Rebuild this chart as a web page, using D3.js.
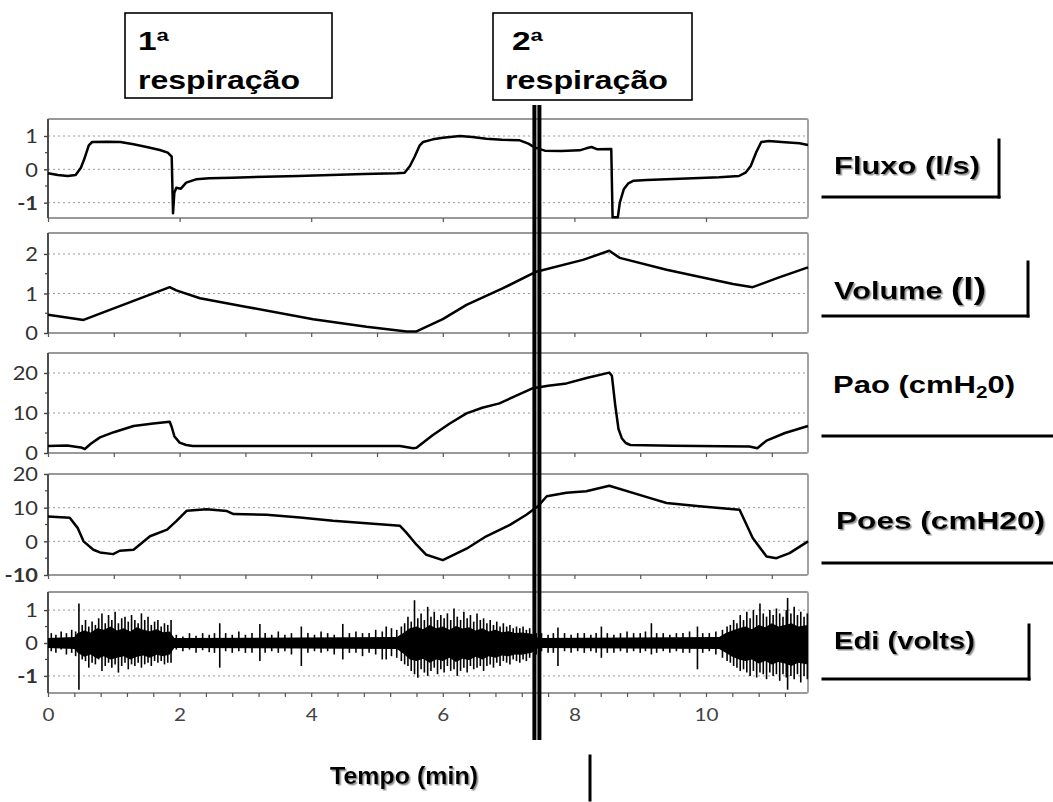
<!DOCTYPE html>
<html><head><meta charset="utf-8">
<script src="https://cdn.jsdelivr.net/npm/d3@7"></script>
<style>
html,body{margin:0;padding:0;background:#fff;}
svg{display:block;}
</style></head>
<body>
<svg id="chart" width="1053" height="802"></svg>
<script>
// ---------------- DATA ----------------
const xDomain = [0, 11.55];
const xTickValues = [0, 2, 4, 6, 8, 10];
const xTickLabels = ["0", "2", "4", "6", "8", "10"];
const markerT = 7.43;

const fluxoT = [0,0.15,0.3,0.42,0.5,0.55,0.62,0.67,0.9,1.1,1.3,1.5,1.7,1.82,1.88,1.9,1.92,1.95,2.02,2.1,2.25,2.45,2.8,3.3,3.8,4.3,4.8,5.3,5.42,5.5,5.57,5.65,5.7,5.85,6.0,6.26,6.45,6.66,6.9,7.17,7.3,7.4,7.55,7.8,8.08,8.18,8.26,8.35,8.56,8.58,8.66,8.69,8.75,8.82,8.9,9.1,9.4,9.8,10.2,10.5,10.6,10.68,10.76,10.84,10.95,11.2,11.42,11.55];
const fluxoV = [-0.12,-0.17,-0.2,-0.17,0.05,0.3,0.72,0.82,0.83,0.82,0.75,0.67,0.58,0.5,0.38,-1.32,-0.7,-0.55,-0.58,-0.4,-0.3,-0.27,-0.25,-0.22,-0.2,-0.17,-0.14,-0.12,-0.1,0.1,0.37,0.72,0.82,0.9,0.95,1.0,0.97,0.92,0.89,0.87,0.77,0.65,0.56,0.55,0.57,0.63,0.67,0.6,0.61,-1.44,-1.44,-1.0,-0.6,-0.42,-0.34,-0.32,-0.3,-0.27,-0.24,-0.2,-0.1,0.1,0.5,0.82,0.85,0.81,0.78,0.73];
const fluxoDomain = [-1.46, 1.51];
const fluxoTicks = [-1, 0, 1];
const fluxoTickLabels = ["-1", "0", "1"];

const volumeT = [0,0.54,1.2,1.85,1.95,2.31,3.02,4.03,4.84,5.45,5.6,6.0,6.36,6.9,7.42,8.13,8.53,8.69,9.4,10.41,10.71,11.1,11.55];
const volumeV = [0.46,0.33,0.75,1.16,1.08,0.88,0.66,0.35,0.16,0.04,0.04,0.35,0.71,1.12,1.55,1.85,2.08,1.9,1.6,1.24,1.16,1.4,1.66];
const volumeDomain = [0, 2.53];
const volumeTicks = [0, 1, 2];
const volumeTickLabels = ["0", "1", "2"];

const paoT = [0,0.29,0.5,0.56,0.65,0.79,1.0,1.3,1.6,1.85,1.88,1.92,2.0,2.1,2.2,3.5,5.35,5.55,5.6,5.85,6.1,6.36,6.6,6.86,7.1,7.37,7.6,7.88,8.2,8.53,8.57,8.62,8.67,8.72,8.78,8.85,9.5,10.66,10.78,10.92,11.2,11.55];
const paoV = [1.75,1.9,1.4,1.0,2.3,3.9,5.2,6.75,7.4,7.8,6.5,4.2,2.6,2.0,1.75,1.75,1.75,1.2,1.3,4.5,7.3,9.9,11.3,12.4,14.2,16.2,16.8,17.4,18.8,20.1,19.3,12,6,3.7,2.5,2.0,1.8,1.6,1.2,3.1,5.0,6.75];
const paoDomain = [0, 25];
const paoTicks = [0, 10, 20];
const paoTickLabels = ["0", "10", "20"];

const poesT = [0,0.33,0.45,0.54,0.69,0.79,0.99,1.09,1.3,1.55,1.81,1.95,2.11,2.41,2.72,2.82,3.32,3.83,4.33,4.84,5.35,5.45,5.6,5.75,6.0,6.36,6.66,7.02,7.27,7.45,7.58,7.88,8.18,8.53,9.14,9.4,9.9,10.51,10.71,10.92,11.07,11.27,11.55];
const poesV = [7.4,7.0,4.0,0,-2.5,-3.3,-3.8,-2.8,-2.5,1.5,3.5,6.0,9.1,9.5,9.0,8.1,7.9,7.1,6.1,5.4,4.6,2.5,-1.0,-4.0,-5.6,-2.2,1.5,4.9,7.9,10.5,13.4,14.4,14.9,16.5,12.9,11.4,10.4,9.4,1.0,-4.5,-5.0,-3.5,0];
const poesDomain = [-10, 20];
const poesTicks = [-10, 0, 10, 20];
const poesTickLabels = ["-10", "0", "10", "20"];

// Edi: envelope of the dense signal and individual spikes
const ediCoreT  = [0,0.4,0.45,0.55,0.65,0.75,0.85,0.95,1.05,1.15,1.25,1.35,1.45,1.55,1.65,1.75,1.85,1.92,5.3,5.4,5.5,5.6,5.7,5.8,5.9,6.0,6.1,6.2,6.3,6.4,6.5,6.6,6.7,6.8,6.9,7.0,7.1,7.2,7.35,7.45,10.2,10.3,10.4,10.5,10.6,10.7,10.8,10.9,11.0,11.1,11.2,11.3,11.4,11.55];
const ediCoreHi = [0.15,0.18,0.3,0.38,0.32,0.45,0.4,0.5,0.38,0.45,0.35,0.48,0.4,0.36,0.42,0.33,0.35,0.15,0.18,0.3,0.45,0.5,0.42,0.55,0.45,0.5,0.4,0.52,0.44,0.48,0.38,0.45,0.35,0.4,0.33,0.36,0.3,0.32,0.28,0.15,0.18,0.3,0.38,0.45,0.5,0.42,0.55,0.48,0.6,0.5,0.55,0.6,0.5,0.55];
const ediCoreLo = [-0.15,-0.18,-0.3,-0.42,-0.35,-0.48,-0.4,-0.5,-0.45,-0.4,-0.5,-0.42,-0.38,-0.45,-0.36,-0.4,-0.35,-0.15,-0.18,-0.32,-0.5,-0.55,-0.48,-0.6,-0.5,-0.55,-0.45,-0.58,-0.48,-0.52,-0.42,-0.5,-0.4,-0.45,-0.38,-0.4,-0.35,-0.36,-0.3,-0.15,-0.18,-0.3,-0.42,-0.5,-0.55,-0.5,-0.62,-0.55,-0.65,-0.58,-0.62,-0.7,-0.6,-0.65];
const ediSpikeT  = [0.05,0.12,0.2,0.28,0.36,0.42,
 0.47,0.52,0.57,0.62,0.67,0.72,0.77,0.82,0.87,0.92,0.97,1.02,1.07,1.12,1.17,1.22,1.27,1.32,1.37,1.42,1.47,1.52,1.57,1.62,1.67,1.72,1.77,1.82,1.87,
 1.95,2.05,2.15,2.25,2.35,2.45,2.53,2.61,2.7,2.8,2.9,3.0,3.1,3.22,3.3,3.4,3.5,3.6,3.7,3.85,3.95,4.05,4.15,4.25,4.35,4.48,4.58,4.68,4.78,4.88,4.98,5.08,5.14,5.22,5.3,5.37,
 5.42,5.47,5.52,5.57,5.62,5.67,5.72,5.77,5.82,5.87,5.92,5.97,6.02,6.07,6.12,6.17,6.22,6.27,6.32,6.37,6.42,6.47,6.52,6.57,6.62,6.67,6.72,6.77,6.82,6.87,6.92,6.97,7.02,7.07,7.12,7.17,7.22,7.27,7.32,
 7.42,7.5,7.6,7.68,7.75,7.85,7.95,8.05,8.15,8.25,8.33,8.41,8.5,8.6,8.7,8.8,8.9,9.0,9.08,9.17,9.25,9.35,9.45,9.55,9.65,9.75,9.87,9.95,10.05,10.15,10.25,
 10.32,10.37,10.42,10.47,10.52,10.57,10.62,10.67,10.72,10.77,10.82,10.87,10.92,10.97,11.02,11.07,11.12,11.17,11.22,11.24,11.29,11.34,11.39,11.44,11.49,11.54];
const ediSpikeHi = [0.3,0.25,0.35,0.3,0.4,0.35,
 1.2,0.55,0.7,0.5,0.65,0.55,0.75,0.9,0.6,0.85,0.7,0.95,0.6,0.75,0.8,0.65,0.85,0.7,0.6,0.9,0.7,0.8,0.55,0.65,0.7,0.5,0.6,0.55,0.7,
 0.25,0.2,0.3,0.22,0.3,0.25,0.3,0.6,0.3,0.25,0.35,0.25,0.3,0.58,0.3,0.25,0.35,0.25,0.3,0.5,0.3,0.25,0.35,0.3,0.25,0.58,0.3,0.35,0.3,0.3,0.4,0.35,0.5,0.45,0.4,0.5,
 0.6,0.8,0.65,1.3,0.75,0.9,0.7,1.1,0.8,0.95,0.7,0.85,0.75,0.9,0.7,1.05,0.8,0.7,0.95,0.75,0.85,0.65,0.9,0.7,0.75,0.6,0.7,0.55,0.65,0.5,0.6,0.5,0.55,0.45,0.5,0.45,0.5,0.4,0.45,
 0.3,0.3,0.25,0.3,0.47,0.3,0.25,0.3,0.3,0.25,0.3,0.5,0.3,0.25,0.3,0.35,0.3,0.3,0.35,0.6,0.3,0.3,0.25,0.3,0.3,0.35,0.5,0.3,0.3,0.35,0.4,
 0.5,0.55,0.7,0.6,0.85,0.7,0.95,0.75,1.0,0.85,1.2,0.9,0.8,1.0,0.85,1.05,0.9,0.8,1.0,1.37,0.9,1.1,0.85,0.95,0.8,0.9];
const ediSpikeLo = [-0.25,-0.3,-0.2,-0.35,-0.3,-0.4,
 -1.42,-0.5,-0.55,-0.75,-0.6,-0.65,-0.5,-0.85,-0.7,-0.6,-0.75,-0.65,-0.9,-0.7,-0.6,-0.8,-0.65,-0.7,-0.6,-0.75,-0.65,-0.6,-0.7,-0.55,-0.6,-0.55,-0.65,-0.6,-0.6,
 -0.2,-0.25,-0.2,-0.3,-0.22,-0.28,-0.3,-0.75,-0.25,-0.3,-0.25,-0.3,-0.3,-0.55,-0.3,-0.25,-0.3,-0.25,-0.35,-0.7,-0.3,-0.25,-0.3,-0.25,-0.35,-0.5,-0.3,-0.3,-0.4,-0.3,-0.35,-0.5,-0.5,-0.4,-0.45,-0.55,
 -0.65,-0.7,-0.85,-0.95,-1.06,-0.8,-0.9,-1.0,-0.85,-0.75,-0.95,-0.8,-0.9,-0.7,-0.85,-0.8,-1.0,-0.85,-0.75,-0.9,-0.7,-0.8,-0.75,-0.7,-0.85,-0.7,-0.65,-0.75,-0.6,-0.7,-0.55,-0.6,-0.65,-0.5,-0.55,-0.6,-0.5,-0.55,-0.45,
 -0.35,-0.25,-0.3,-0.3,-0.7,-0.25,-0.3,-0.25,-0.3,-0.25,-0.3,-0.45,-0.3,-0.3,-0.25,-0.3,-0.25,-0.3,-0.25,-0.35,-0.3,-0.25,-0.3,-0.25,-0.3,-0.3,-0.8,-0.3,-0.25,-0.35,-0.45,
 -0.55,-0.6,-0.7,-0.75,-0.85,-0.8,-0.9,-1.0,-0.85,-1.05,-0.9,-0.95,-1.1,-0.9,-1.0,-0.95,-1.15,-0.95,-1.05,-1.42,-1.0,-1.1,-0.95,-1.2,-1.0,-1.1];
const ediDomain = [-1.52, 1.55];
const ediTicks = [-1, 0, 1];
const ediTickLabels = ["-1", "0", "1"];

// ---------------- DRAW ----------------
const svg = d3.select("#chart");
const defs = svg.append("defs");
const f = defs.append("filter").attr("id","shadow").attr("x","-10%").attr("y","-20%").attr("width","130%").attr("height","160%");
f.append("feDropShadow").attr("dx",1.5).attr("dy",1.5).attr("stdDeviation",0.6)
  .attr("flood-color","#777").attr("flood-opacity",0.8);

const x = d3.scaleLinear().domain(xDomain).range([48, 808]);

const panels = [
  {t: fluxoT,  v: fluxoV,  top: 119, bottom: 218, domain: fluxoDomain,  ticks: fluxoTicks,  labels: fluxoTickLabels, minorStep: 2},
  {t: volumeT, v: volumeV, top: 233, bottom: 333, domain: volumeDomain, ticks: volumeTicks, labels: volumeTickLabels, minorStep: 1},
  {t: paoT,    v: paoV,    top: 353, bottom: 453, domain: paoDomain,    ticks: paoTicks,    labels: paoTickLabels, minorStep: 1},
  {t: poesT,   v: poesV,   top: 474, bottom: 575, domain: poesDomain,   ticks: poesTicks,   labels: poesTickLabels, minorStep: 1},
  {t: null,    v: null,    top: 592, bottom: 693, domain: ediDomain,    ticks: ediTicks,    labels: ediTickLabels, minorStep: 0.4}
];

const tickFont = "'Lato', 'Open Sans', 'DejaVu Sans', sans-serif";

panels.forEach((p, i) => {
  const y = d3.scaleLinear().domain(p.domain).range([p.bottom, p.top]);
  const g = svg.append("g");
  // grid
  g.selectAll("line.grid").data(p.ticks.filter(v => y(v) > p.top + 2 && y(v) < p.bottom - 2))
    .join("line").attr("class","grid")
    .attr("x1", x(xDomain[0])).attr("x2", x(xDomain[1]))
    .attr("y1", d => y(d)).attr("y2", d => y(d))
    .attr("stroke", "#9a9a9a").attr("stroke-width", 1).attr("stroke-dasharray", "2,3");
  // frame
  g.append("rect").attr("x", x(xDomain[0])).attr("y", p.top)
    .attr("width", x(xDomain[1]) - x(xDomain[0])).attr("height", p.bottom - p.top)
    .attr("fill", "none").attr("stroke", "#999").attr("stroke-width", 1.8).attr("rx", 1.5);
  // bottom minor ticks
  const minor = d3.range(0, xDomain[1] + 0.001, p.minorStep);
  const bx = d3.axisBottom(x).tickValues(minor).tickSize(4).tickFormat("");
  const bg = g.append("g").attr("transform", `translate(0,${p.bottom})`).call(bx);
  bg.select(".domain").remove();
  bg.selectAll("line").attr("stroke", "#555").attr("stroke-width", 1.2);
  // left axis
  const halfTicks = [];
  for (let k = 0; k < p.ticks.length - 1; k++) halfTicks.push((p.ticks[k] + p.ticks[k+1]) / 2);
  const la = d3.axisLeft(y).tickValues(p.ticks).tickSize(4).tickPadding(6)
    .tickFormat((d, k) => p.labels[k]);
  const lg = g.append("g").attr("transform", `translate(${x(xDomain[0])},0)`).call(la);
  lg.select(".domain").attr("d", `M0,${p.top}V${p.bottom}`).attr("stroke", "#444").attr("stroke-width", 1.8);
  lg.selectAll("line").attr("stroke", "#444").attr("stroke-width", 1.4);
  lg.selectAll("text").attr("font-family", tickFont)
    .attr("font-size", 19).attr("fill", "#333").attr("dy", "0.36em")
    .each(function(){ const t = d3.select(this); const xx = +t.attr("x");
      t.attr("transform", `translate(${xx},0) scale(1.15,1) translate(${-xx},0)`); });
  lg.selectAll("text").filter((d,k) => p.labels[k].startsWith("-"))
    .style("font-weight", "bold");
  g.selectAll("line.half").data(halfTicks).join("line").attr("class","half")
    .attr("x1", x(xDomain[0]) - 3).attr("x2", x(xDomain[0]))
    .attr("y1", d => y(d)).attr("y2", d => y(d)).attr("stroke", "#444").attr("stroke-width", 1.2);

  if (p.t) {
    const pts = p.t.map((t, k) => [t, p.v[k]]);
    g.append("path").datum(pts)
      .attr("d", d3.line().x(d => x(d[0])).y(d => y(d[1])))
      .attr("fill", "none").attr("stroke", "#000").attr("stroke-width", 2.5)
      .attr("stroke-linejoin", "round");
  } else {
    const core = ediCoreT.map((t, k) => [t, ediCoreHi[k], ediCoreLo[k]]);
    g.append("path").datum(core)
      .attr("d", d3.area().x(d => x(d[0])).y0(d => y(d[2])).y1(d => y(d[1])))
      .attr("fill", "#000");
    const sp = ediSpikeT.map((t, k) => [t, ediSpikeHi[k], ediSpikeLo[k]]);
    g.selectAll("line.spike").data(sp).join("line").attr("class","spike")
      .attr("x1", d => x(d[0])).attr("x2", d => x(d[0]))
      .attr("y1", d => y(d[1])).attr("y2", d => y(d[2]))
      .attr("stroke", "#000").attr("stroke-width", 1.6);
    // x labels
    const xa = d3.axisBottom(x).tickValues(xTickValues).tickSize(0).tickPadding(15)
      .tickFormat((d, k) => xTickLabels[k]);
    const xg = g.append("g").attr("transform", `translate(0,${p.bottom})`).call(xa);
    xg.select(".domain").remove();
    xg.selectAll("text").attr("font-family", tickFont)
      .attr("font-size", 18).attr("fill", "#444")
      .attr("transform", "scale(1.15,1)");
  }
});

// marker (double vertical bar)
const mx = x(markerT);
svg.append("rect").attr("x", mx - 4.5).attr("y", 105).attr("width", 4).attr("height", 635).attr("fill", "#000");
svg.append("rect").attr("x", mx + 0.5).attr("y", 105).attr("width", 4).attr("height", 635).attr("fill", "#000");

// boxes
const boxFont = "'Liberation Sans', Arial, sans-serif";
function box(bx, by, bw, bh, line1, l1x, textX, textW) {
  svg.append("rect").attr("x", bx).attr("y", by).attr("width", bw).attr("height", bh)
    .attr("fill", "#fff").attr("stroke", "#000").attr("stroke-width", 1.6);
  svg.append("text").attr("x", l1x).attr("y", by + 37).text(line1)
    .attr("font-family", boxFont).attr("font-weight", "bold").attr("font-size", 26)
    .attr("textLength", 31).attr("lengthAdjust", "spacingAndGlyphs");
  svg.append("text").attr("x", textX).attr("y", by + 76).text("respiração")
    .attr("font-family", boxFont).attr("font-weight", "bold").attr("font-size", 26)
    .attr("textLength", textW).attr("lengthAdjust", "spacingAndGlyphs");
}
box(125, 13, 207, 85, "1ª", 138, 138, 162);
box(493, 13, 199, 87, "2ª", 512, 505, 163);

// right labels
function label(txt, lx, ly, w, shadow) {
  const t = svg.append("text").attr("x", lx).attr("y", ly)
    .attr("font-family", boxFont).attr("font-weight", "bold").attr("font-size", 24)
    .attr("textLength", w).attr("lengthAdjust", "spacingAndGlyphs");
  if (shadow) t.attr("filter", "url(#shadow)");
  return t;
}
function seg(x1, y1, x2, y2) {
  svg.append("line").attr("x1", x1).attr("y1", y1).attr("x2", x2).attr("y2", y2)
    .attr("stroke", "#000").attr("stroke-width", 3).attr("stroke-linecap", "square");
}
label("Fluxo (l/s)", 834, 174, 146, true).text("Fluxo (l/s)");
seg(823, 197, 999, 197); seg(999, 140, 999, 197);

const vt = label("", 834, 299, 152, true);
vt.append("tspan").text("Volume ");
vt.append("tspan").attr("font-size", 29).text("(l)");
seg(823, 316, 1028, 316); seg(1028, 262, 1028, 316);

const pt = label("", 833, 393, 182, false);
pt.append("tspan").text("Pao (cmH");
pt.append("tspan").attr("font-size", 16).attr("dy", 5).text("2");
pt.append("tspan").attr("dy", -5).text("0)");
seg(823, 436, 1053, 436);

label("Poes (cmH20)", 836, 529, 209, true).text("Poes (cmH20)");
seg(823, 563, 1053, 563);

label("Edi (volts)", 834, 649, 141, true).text("Edi (volts)");
seg(823, 679, 1029, 679); seg(1029, 625, 1029, 679);

label("Tempo (min)", 330, 784, 148, true).text("Tempo (min)");
seg(590, 756, 590, 800);
</script>
</body></html>
